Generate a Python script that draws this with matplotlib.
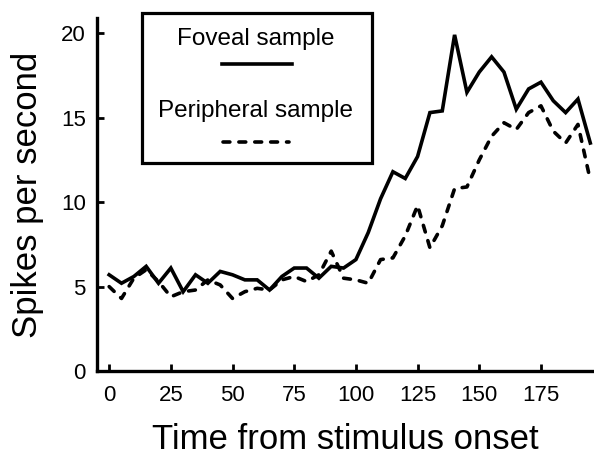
import matplotlib.pyplot as plt
from matplotlib.lines import Line2D
from matplotlib.patches import Rectangle

plt.rcParams['font.family'] = ['Liberation Sans', 'DejaVu Sans']

# Time bins (ms from stimulus onset), 5 ms apart
time_ms = list(range(0, 200, 5))

foveal = [5.7, 5.2, 5.6, 6.2, 5.2, 6.1, 4.7, 5.7, 5.2, 5.9,
          5.7, 5.4, 5.4, 4.8, 5.6, 6.1, 6.1, 5.5, 6.2, 6.1,
          6.6, 8.2, 10.2, 11.8, 11.4, 12.7, 15.3, 15.4, 19.9, 16.5,
          17.7, 18.6, 17.7, 15.5, 16.7, 17.1, 16.0, 15.3, 16.1, 13.5]

peripheral = [5.0, 4.3, 5.5, 6.0, 5.3, 4.4, 4.7, 4.8, 5.4, 5.1,
              4.3, 4.7, 4.9, 4.8, 5.4, 5.6, 5.3, 5.7, 7.1, 5.5,
              5.4, 5.2, 6.6, 6.7, 8.0, 9.8, 7.3, 8.6, 10.8, 10.9,
              12.5, 13.9, 14.7, 14.3, 15.3, 15.7, 14.2, 13.5, 14.6, 11.3]

x_ticks = [0, 25, 50, 75, 100, 125, 150, 175]
y_ticks = [0, 5, 10, 15, 20]

fig = plt.figure(figsize=(5.94, 4.61), dpi=100)
ax = fig.add_axes([0.163, 0.195, 0.837, 0.766])

lw = 2.6
dash = (0, (1.9, 2.5))
ax.plot(time_ms, foveal, color='black', linewidth=lw, solid_joinstyle='miter')
ax.plot(time_ms, peripheral, color='black', linewidth=lw, linestyle=dash,
        dash_capstyle='round')

ax.set_xlim(-5, 196.5)
ax.set_ylim(0, 20.9)
ax.set_xticks(x_ticks)
ax.set_yticks(y_ticks)
ax.tick_params(direction='in', length=5, width=2, labelsize=16, pad=8)
ax.tick_params(axis='x', pad=10)

for side in ['top', 'right']:
    ax.spines[side].set_visible(False)
for side in ['left', 'bottom']:
    ax.spines[side].set_linewidth(2.4)

ax.set_xlabel('Time from stimulus onset', fontsize=25, labelpad=12)
ax.set_ylabel('Spikes per second', fontsize=25, labelpad=12)

# Legend box: text stacked above its line sample
fig.patches.append(Rectangle((0.2385, 0.646), 0.3875, 0.326, transform=fig.transFigure,
                             fill=False, edgecolor='black', linewidth=2.3))
fig.text(0.43, 0.915, 'Foveal sample', ha='center', va='center', fontsize=17.5)
fig.lines.append(Line2D([0.374, 0.492], [0.861, 0.861], transform=fig.transFigure,
                        color='black', linewidth=lw))
fig.text(0.43, 0.759, 'Peripheral sample', ha='center', va='center', fontsize=17.5)
fig.lines.append(Line2D([0.376, 0.486], [0.692, 0.692], transform=fig.transFigure,
                        color='black', linewidth=lw, linestyle=dash,
                        dash_capstyle='round'))

fig.savefig('out.png', dpi=100)
